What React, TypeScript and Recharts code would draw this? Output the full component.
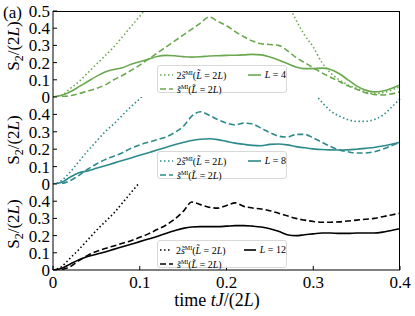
import React from 'react';
import { LineChart, Line, XAxis, YAxis } from 'recharts';

// time grid tJ/(2L)
const times = [
  0, 0.01, 0.02, 0.03, 0.04, 0.05, 0.06, 0.07, 0.08, 0.09, 0.1,
  0.11, 0.12, 0.13, 0.14, 0.15, 0.16, 0.17, 0.18, 0.19, 0.2,
  0.21, 0.22, 0.23, 0.24, 0.25, 0.26, 0.27, 0.28, 0.29, 0.3,
  0.31, 0.32, 0.33, 0.34, 0.35, 0.36, 0.37, 0.38, 0.39, 0.4,
];

const xTicks = [0, 0.1, 0.2, 0.3, 0.4];
const yTicksTop = [0, 0.1, 0.2, 0.3, 0.4, 0.5];
const yTicks = [0, 0.1, 0.2, 0.3, 0.4];

// L = 4
const dotted4 = [
  0, 0.01, 0.05, 0.09, 0.14, 0.19, 0.24, 0.29, 0.35, 0.41, 0.47,
  0.53, null, null, null, null, null, null, null, null, null,
  null, null, null, null, null, null, 0.55, 0.45, 0.36, 0.29,
  0.2, 0.14, 0.1, 0.07, 0.05, 0.03, 0.02, 0.025, 0.04, 0.06,
];
const dashed4 = [
  0, 0.002, 0.008, 0.02, 0.035, 0.05, 0.07, 0.1, 0.125, 0.155, 0.185,
  0.22, 0.255, 0.29, 0.325, 0.36, 0.395, 0.43, 0.465, 0.44, 0.415,
  0.38, 0.35, 0.325, 0.31, 0.305, 0.3, 0.27, 0.23, 0.2, 0.17,
  0.14, 0.115, 0.09, 0.065, 0.045, 0.025, 0.015, 0.012, 0.018, 0.03,
];
const solid4 = [
  0, 0.01, 0.03, 0.06, 0.09, 0.12, 0.145, 0.16, 0.17, 0.19, 0.205,
  0.22, 0.235, 0.242, 0.24, 0.235, 0.232, 0.234, 0.238, 0.24, 0.242,
  0.243, 0.245, 0.248, 0.245, 0.232, 0.215, 0.195, 0.175, 0.165, 0.165,
  0.168, 0.16, 0.135, 0.1, 0.065, 0.04, 0.03, 0.035, 0.05, 0.07,
];

// L = 8
const dotted8 = [
  0, 0.02, 0.07, 0.13, 0.19, 0.245, 0.3, 0.345, 0.395, 0.445, 0.49,
  0.54, null, null, null, null, null, null, null, null, null,
  null, null, null, null, null, null, null, null, null, 0.53,
  0.47, 0.42, 0.39, 0.37, 0.36, 0.36, 0.37, 0.395, 0.44, 0.49,
];
const dashed8 = [
  0, 0.003, 0.02, 0.05, 0.085, 0.115, 0.14, 0.16, 0.18, 0.205, 0.225,
  0.24, 0.255, 0.27, 0.295, 0.33, 0.39, 0.415, 0.395, 0.37, 0.35,
  0.34, 0.35, 0.345, 0.32, 0.295, 0.275, 0.27, 0.285, 0.285, 0.265,
  0.24, 0.215, 0.195, 0.185, 0.178, 0.178, 0.185, 0.2, 0.22, 0.24,
];
const solid8 = [
  0, 0.01, 0.04, 0.065, 0.075, 0.09, 0.105, 0.12, 0.135, 0.15, 0.165,
  0.18, 0.195, 0.21, 0.225, 0.238, 0.25, 0.257, 0.26, 0.255, 0.245,
  0.235, 0.228, 0.222, 0.22, 0.228, 0.23, 0.225, 0.215, 0.208, 0.202,
  0.198, 0.196, 0.195, 0.196, 0.2, 0.205, 0.21, 0.218, 0.228, 0.24,
];

// L = 12
const dotted12 = [
  0, 0.02, 0.07, 0.12, 0.175, 0.23, 0.28, 0.33, 0.39, 0.45, 0.51,
  0.57, null, null, null, null, null, null, null, null, null,
  null, null, null, null, null, null, null, null, null, null,
  null, null, null, null, null, null, null, null, null, null,
];
const dashed12 = [
  0, 0.003, 0.02, 0.055, 0.085, 0.108, 0.125, 0.14, 0.155, 0.17, 0.19,
  0.21, 0.235, 0.26, 0.295, 0.34, 0.395, 0.38, 0.365, 0.36, 0.375,
  0.39, 0.37, 0.36, 0.355, 0.345, 0.33, 0.315, 0.3, 0.29, 0.282,
  0.278, 0.278, 0.28, 0.285, 0.29, 0.295, 0.3, 0.31, 0.32, 0.33,
];
const solid12 = [
  0, 0.01, 0.035, 0.06, 0.078, 0.092, 0.105, 0.12, 0.135, 0.15, 0.165,
  0.18, 0.195, 0.212, 0.228, 0.242, 0.25, 0.252, 0.252, 0.252, 0.255,
  0.258, 0.258, 0.255, 0.25, 0.24, 0.225, 0.205, 0.2, 0.205, 0.21,
  0.215, 0.215, 0.213, 0.213, 0.215, 0.215, 0.215, 0.22, 0.23, 0.24,
];

const FONT = '"Liberation Serif", "DejaVu Serif", serif';
const W = 415;
const H = 316;
const PLOT_LEFT = 53;
const PLOT_RIGHT = 400;

const makeRows = (a: (number | null)[], b: number[], c: number[]) =>
  times.map((t, i) => ({ t, dot: a[i], dash: b[i], solid: c[i] }));

const DOT = '1.5 2.5';
const DASH = '6 3';

type PanelProps = {
  rows: any[];
  color: string;
  top: number;
  bottom: number;
  yt: number[];
  showX?: boolean;
};

const Panel = ({ rows, color, top, bottom, yt, showX }: PanelProps) => {
  const xh = showX ? 30 : 0;
  return (
    <div style={{ position: 'absolute', left: 0, top: 0 }}>
      <LineChart
        width={W}
        height={H}
        data={rows}
        margin={{ top, bottom: H - bottom - xh, left: PLOT_LEFT - 40, right: W - PLOT_RIGHT }}
      >
        <XAxis
          dataKey="t"
          type="number"
          domain={[0, 0.4]}
          ticks={xTicks}
          interval={0}
          height={xh}
          stroke="#000"
          tickSize={-4}
          tickMargin={10}
          tickFormatter={showX ? (v: number) => String(v) : () => ''}
          tick={{ fill: '#000', fontSize: 17, fontFamily: FONT }}
        />
        <YAxis
          type="number"
          domain={[0, 0.5]}
          allowDataOverflow
          ticks={yt}
          interval={0}
          width={40}
          stroke="#000"
          tickSize={-4}
          tickMargin={7}
          tick={{ fill: '#000', fontSize: 17, fontFamily: FONT }}
        />
        <Line dataKey="dot" stroke={color} strokeWidth={1.6} strokeDasharray={DOT} dot={false} type="monotone" isAnimationActive={false} />
        <Line dataKey="dash" stroke={color} strokeWidth={1.6} strokeDasharray={DASH} dot={false} type="monotone" isAnimationActive={false} />
        <Line dataKey="solid" stroke={color} strokeWidth={1.6} dot={false} type="monotone" isAnimationActive={false} />
      </LineChart>
    </div>
  );
};

const Sample = ({ color, dash }: { color: string; dash?: string }) => (
  <svg width={13} height={6} style={{ marginRight: 4 }}>
    <line x1={0} y1={3} x2={13} y2={3} stroke={color} strokeWidth={1.6} strokeDasharray={dash} />
  </svg>
);

const SMI = () => (
  <span>
    <i>s&#771;</i>
    <sup style={{ fontSize: 6 }}>MI</sup>(<i>L&#771;</i> = 2<i>L</i>)
  </span>
);

const Legend = ({ color, top, n }: { color: string; top: number; n: number }) => (
  <div
    style={{
      position: 'absolute', left: 157, top, width: 130, height: 28, boxSizing: 'border-box',
      border: '1px solid #d8d8d8', borderRadius: 3, background: 'rgba(255,255,255,0.85)',
      fontFamily: FONT, fontSize: 10, lineHeight: '11px', padding: '2px 0 0 2px',
    }}
  >
    <div style={{ display: 'flex', alignItems: 'center', whiteSpace: 'nowrap' }}>
      <Sample color={color} dash={DOT} />
      <span style={{ width: 74 }}>2<SMI /></span>
      <Sample color={color} />
      <span><i>L</i> = {n}</span>
    </div>
    <div style={{ display: 'flex', alignItems: 'center', whiteSpace: 'nowrap', marginTop: 1 }}>
      <Sample color={color} dash={DASH} />
      <SMI />
    </div>
  </div>
);

const YLabel = ({ cy }: { cy: number }) => (
  <text x={0} y={0} transform={`translate(19, ${cy}) rotate(-90)`} textAnchor="middle" fontSize={17} fontFamily={FONT}>
    S<tspan fontSize={12} dy={4}>2</tspan>
    <tspan dy={-4}>/(2</tspan><tspan fontStyle="italic">L</tspan>)
  </text>
);

export default function App() {
  return (
    <div style={{ position: 'absolute', left: 0, top: 0, width: W, height: H, background: '#fff' }}>
      <Panel rows={makeRows(dotted4, dashed4, solid4)} color="#6aa84f" top={11} bottom={97} yt={yTicksTop} />
      <Panel rows={makeRows(dotted8, dashed8, solid8)} color="#2e8a8a" top={97} bottom={184} yt={yTicks} />
      <Panel rows={makeRows(dotted12, dashed12, solid12)} color="#000" top={184} bottom={270} yt={yTicks} showX />
      <div style={{ position: 'absolute', left: PLOT_LEFT, top: 11, width: PLOT_RIGHT - PLOT_LEFT, height: 259, borderTop: '1px solid #000', borderRight: '1px solid #000', boxSizing: 'border-box' }} />
      <Legend color="#6aa84f" top={65} n={4} />
      <Legend color="#2e8a8a" top={151} n={8} />
      <Legend color="#000" top={240} n={12} />
      <svg width={W} height={H} style={{ position: 'absolute', left: 0, top: 0, pointerEvents: 'none' }}>
        <text x={3} y={18} fontSize={17} fontFamily={FONT}>(a)</text>
        <YLabel cy={46} />
        <YLabel cy={140} />
        <YLabel cy={224} />
        <text x={217} y={306} textAnchor="middle" fontSize={18} fontFamily={FONT}>
          time <tspan fontStyle="italic">tJ</tspan>/(2<tspan fontStyle="italic">L</tspan>)
        </text>
      </svg>
    </div>
  );
}
